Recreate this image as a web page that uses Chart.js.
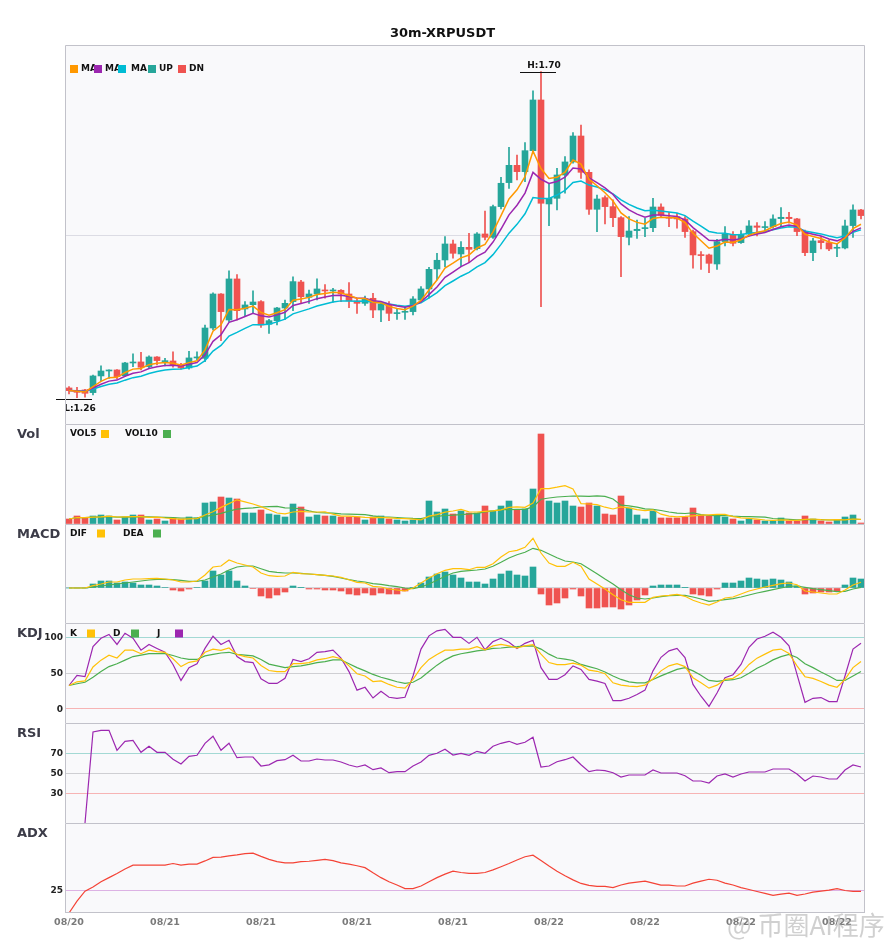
<!DOCTYPE html>
<html>
<head>
<meta charset="utf-8">
<script src="https://cdn.jsdelivr.net/npm/chart.js@4.4.1/dist/chart.umd.min.js"></script>
<style>
  html, body { margin: 0; padding: 0; background: #fff; }
  #wrap { position: relative; width: 885px; height: 950px; overflow: hidden; }
  #wrap canvas { position: absolute; left: 0; }
  #wm { position: absolute; left: 727px; top: 905px; font: 26px 'Noto Sans CJK SC', sans-serif;
        color: rgba(170, 170, 170, 0.55); white-space: nowrap; }
</style>
</head>
<body>
<div id="wrap">
  <canvas id="main" width="885" height="425" style="top:0px"></canvas>
  <canvas id="vol" width="885" height="100" style="top:424px"></canvas>
  <canvas id="macd" width="885" height="99" style="top:524px"></canvas>
  <canvas id="kdj" width="885" height="100" style="top:623px"></canvas>
  <canvas id="rsi" width="885" height="100" style="top:723px"></canvas>
  <canvas id="adx" width="885" height="127" style="top:823px"></canvas>
  <div id="wm">@ 币圈AI程序</div>
</div>
<script>
// ---- data (30m candles) ----
const tickLabels = ['08/20', '08/21', '08/21', '08/21', '08/21', '08/22', '08/22', '08/22', '08/22'];
const tickEvery = 12;

const opens = [1.2732,1.2682,1.2705,1.2669,1.2894,1.2961,1.2975,1.2898,1.3069,1.3083,
  1.3020,1.3150,1.3087,1.3096,1.3047,1.3002,1.3137,1.3132,1.3541,1.4000,
  1.3649,1.4203,1.3798,1.3856,1.3897,1.3591,1.3640,1.3811,1.3897,1.4162,
  1.3955,1.4000,1.4050,1.4041,1.4050,1.4000,1.3906,1.3874,1.3942,1.3784,
  1.3861,1.3735,1.3753,1.3762,1.3919,1.4068,1.4338,1.4459,1.4675,1.4540,
  1.4630,1.4612,1.4810,1.4765,1.5179,1.5503,1.5736,1.5651,1.5934,1.6618,
  1.5215,1.5291,1.5606,1.5782,1.6132,1.5642,1.5143,1.5300,1.5179,1.5030,
  1.4765,1.4855,1.4882,1.4895,1.5174,1.5031,1.5044,1.5013,1.4842,1.4527,
  1.4527,1.4405,1.4707,1.4797,1.4693,1.4810,1.4918,1.4896,1.4909,1.5017,
  1.5035,1.5013,1.4842,1.4558,1.4720,1.4693,1.4617,1.4621,1.4923,1.5134];
const highs = [1.2750,1.2741,1.2714,1.2907,1.3029,1.2975,1.2980,1.3078,1.3191,1.3213,
  1.3164,1.3155,1.3132,1.3218,1.3065,1.3227,1.3218,1.3582,1.4014,1.4005,
  1.4311,1.4261,1.3897,1.4041,1.3910,1.3658,1.3820,1.3919,1.4230,1.4185,
  1.4054,1.4203,1.4126,1.4077,1.4059,1.4153,1.3942,1.3973,1.4009,1.3897,
  1.3897,1.3807,1.3820,1.3964,1.4099,1.4360,1.4549,1.4774,1.4729,1.4706,
  1.4819,1.4828,1.5120,1.5201,1.5575,1.5979,1.5876,1.6042,1.6740,1.7001,
  1.5485,1.5696,1.5853,1.6177,1.6281,1.5674,1.5336,1.5323,1.5269,1.5044,
  1.5044,1.4999,1.5021,1.5291,1.5215,1.5103,1.5089,1.5044,1.4864,1.4572,
  1.4540,1.4738,1.4909,1.4842,1.4855,1.4990,1.4963,1.4977,1.5067,1.5166,
  1.5103,1.5022,1.4864,1.4752,1.4774,1.4729,1.4684,1.4999,1.5202,1.5143];
const lows = [1.2651,1.2601,1.2606,1.2637,1.2826,1.2862,1.2853,1.2885,1.3020,1.2975,
  1.2997,1.3042,1.3029,1.3011,1.2984,1.2984,1.3110,1.3087,1.3514,1.3370,
  1.3627,1.3649,1.3694,1.3739,1.3550,1.3469,1.3582,1.3658,1.3775,1.3883,
  1.3874,1.3919,1.3942,1.3888,1.3897,1.3816,1.3739,1.3847,1.3681,1.3627,
  1.3640,1.3658,1.3658,1.3717,1.3897,1.3942,1.4189,1.4369,1.4482,1.4369,
  1.4427,1.4594,1.4729,1.4751,1.5147,1.5426,1.5539,1.5516,1.5898,1.3829,
  1.4922,1.5134,1.5359,1.5764,1.5561,1.5075,1.4841,1.4945,1.4909,1.4234,
  1.4661,1.4751,1.4774,1.4841,1.5044,1.4909,1.4887,1.4765,1.4347,1.4333,
  1.4288,1.4333,1.4648,1.4648,1.4684,1.4783,1.4783,1.4833,1.4887,1.4909,
  1.4954,1.4788,1.4518,1.4450,1.4608,1.4585,1.4504,1.4608,1.4765,1.5013];
const closes = [1.2696,1.2673,1.2660,1.2894,1.2961,1.2970,1.2885,1.3069,1.3078,1.3011,
  1.3150,1.3101,1.3096,1.3042,1.3002,1.3137,1.3146,1.3541,1.4000,1.3762,
  1.4203,1.3775,1.3852,1.3892,1.3582,1.3640,1.3811,1.3874,1.4167,1.3964,
  1.4000,1.4068,1.4041,1.4050,1.4000,1.3906,1.3874,1.3933,1.3784,1.3865,
  1.3739,1.3744,1.3762,1.3933,1.4068,1.4333,1.4455,1.4675,1.4549,1.4630,
  1.4603,1.4810,1.4765,1.5179,1.5494,1.5736,1.5651,1.5934,1.6618,1.5224,
  1.5291,1.5606,1.5782,1.6132,1.5642,1.5143,1.5282,1.5179,1.5030,1.4774,
  1.4850,1.4873,1.4895,1.5174,1.5066,1.5022,1.5013,1.4842,1.4527,1.4518,
  1.4414,1.4707,1.4806,1.4684,1.4806,1.4918,1.4900,1.4905,1.5013,1.5035,
  1.5017,1.4842,1.4558,1.4716,1.4693,1.4608,1.4626,1.4918,1.5134,1.5058];

const ma5 = [1.2696,1.2688,1.2679,1.2751,1.2821,1.2871,1.2876,1.2940,1.2986,1.2994,
  1.3046,1.3064,1.3075,1.3064,1.3043,1.3074,1.3098,1.3246,1.3497,1.3585,
  1.3791,1.3786,1.3808,1.3836,1.3751,1.3714,1.3746,1.3789,1.3915,1.3931,
  1.3954,1.3992,1.4008,1.4022,1.4015,1.3979,1.3944,1.3940,1.3888,1.3880,
  1.3833,1.3803,1.3789,1.3837,1.3914,1.4054,1.4188,1.4350,1.4416,1.4487,
  1.4526,1.4621,1.4669,1.4839,1.5057,1.5283,1.5406,1.5582,1.5927,1.5693,
  1.5559,1.5575,1.5644,1.5807,1.5752,1.5549,1.5460,1.5366,1.5254,1.5094,
  1.5013,1.4966,1.4942,1.5019,1.5035,1.5031,1.5025,1.4964,1.4818,1.4718,
  1.4617,1.4647,1.4700,1.4695,1.4732,1.4794,1.4829,1.4854,1.4907,1.4950,
  1.4972,1.4929,1.4805,1.4775,1.4748,1.4701,1.4676,1.4757,1.4883,1.4941];
const ma8 = [1.2696,1.2691,1.2684,1.2731,1.2782,1.2824,1.2838,1.2889,1.2931,1.2949,
  1.2994,1.3018,1.3035,1.3037,1.3029,1.3053,1.3074,1.3178,1.3361,1.3450,
  1.3617,1.3652,1.3696,1.3740,1.3705,1.3691,1.3718,1.3753,1.3845,1.3871,
  1.3900,1.3937,1.3960,1.3980,1.3984,1.3967,1.3946,1.3943,1.3908,1.3898,
  1.3863,1.3837,1.3820,1.3845,1.3895,1.3992,1.4095,1.4224,1.4296,1.4370,
  1.4422,1.4508,1.4565,1.4701,1.4877,1.5068,1.5198,1.5362,1.5641,1.5548,
  1.5491,1.5517,1.5576,1.5700,1.5687,1.5566,1.5503,1.5431,1.5342,1.5216,
  1.5135,1.5077,1.5037,1.5067,1.5067,1.5057,1.5047,1.5001,1.4896,1.4812,
  1.4724,1.4720,1.4739,1.4727,1.4745,1.4783,1.4809,1.4830,1.4871,1.4907,
  1.4931,1.4911,1.4833,1.4807,1.4782,1.4743,1.4717,1.4762,1.4845,1.4892];
const ma13 = [1.2696,1.2693,1.2688,1.2717,1.2752,1.2783,1.2798,1.2837,1.2871,1.2891,
  1.2928,1.2953,1.2973,1.2983,1.2986,1.3008,1.3028,1.3101,1.3229,1.3305,
  1.3433,1.3482,1.3535,1.3586,1.3585,1.3593,1.3624,1.3660,1.3732,1.3765,
  1.3799,1.3837,1.3866,1.3892,1.3907,1.3907,1.3902,1.3906,1.3889,1.3886,
  1.3865,1.3848,1.3836,1.3850,1.3881,1.3946,1.4019,1.4113,1.4175,1.4240,
  1.4292,1.4366,1.4423,1.4531,1.4669,1.4821,1.4940,1.5082,1.5301,1.5290,
  1.5290,1.5335,1.5399,1.5504,1.5524,1.5470,1.5443,1.5405,1.5351,1.5269,
  1.5209,1.5161,1.5123,1.5130,1.5121,1.5107,1.5094,1.5058,1.4982,1.4916,
  1.4844,1.4824,1.4821,1.4801,1.4802,1.4819,1.4831,1.4842,1.4866,1.4890,
  1.4908,1.4899,1.4850,1.4831,1.4811,1.4782,1.4760,1.4783,1.4833,1.4865];

const volumes = [5,8,6,8,9,8,4,7,9,9, 4,5,3,6,5,7,6,21,22,27, 26,25,11,11,14,10,9,7,20,17,
  7,9,8,8,7,7,7,4,7,8, 5,4,3,4,5,23,12,15,10,13, 11,11,18,13,18,23,14,15,35,90,
  23,21,23,18,17,21,18,10,9,28, 16,9,5,13,6,6,6,7,16,9, 8,8,7,5,3,5,4,3,3,6,
  3,3,8,5,3,2,4,7,9,1];
const vol5 = [5,6.5,6.3,6.8,7.2,7.8,7.0,7.2,7.4,7.4, 6.6,6.8,6.0,5.4,4.6,5.2,5.4,9.0,12.2,16.6,
  20.4,24.2,22.2,20.0,17.4,14.2,11.0,10.2,12.0,12.6, 12.0,12.0,12.2,9.8,7.8,7.8,7.4,6.6,6.4,6.6,
  6.2,5.6,5.4,4.8,4.2,7.8,9.4,11.8,13.0,14.6, 12.2,12.0,12.6,13.2,14.2,16.6,17.2,16.6,21.0,35.4,
  35.4,36.8,38.4,35.0,20.4,20.0,19.4,16.8,15.0,17.2, 16.2,14.4,13.4,14.2,9.8,7.8,7.2,7.6,8.2,8.8,
  9.2,9.6,9.6,7.4,6.2,5.6,4.8,4.0,3.6,4.2, 3.8,3.6,4.6,5.0,4.4,4.2,4.4,4.2,5.0,4.6];
const vol10 = [5,6.5,6.3,6.8,7.2,7.3,6.9,6.9,7.1,7.3, 7.2,6.9,6.6,6.4,6.0,5.9,6.1,7.5,8.8,10.6,
  12.8,14.8,15.6,16.1,17.0,17.3,17.6,16.2,16.0,15.0, 13.1,11.5,11.2,10.9,10.2,9.9,9.7,9.4,8.1,7.2,
  7.0,6.5,6.0,5.6,5.4,7.0,7.5,8.6,8.9,9.4, 10.0,10.7,12.2,13.1,14.4,14.4,14.6,14.6,17.1,24.8,
  26.0,27.0,27.5,28.0,27.9,27.7,28.1,27.6,25.0,18.8, 18.1,16.9,15.1,14.6,13.5,12.0,10.8,10.5,11.2,9.3,
  8.5,8.4,8.6,7.8,7.5,7.4,7.2,6.8,5.5,5.2, 4.7,4.2,4.3,4.3,4.3,4.0,4.0,4.4,5.0,4.5];

const macdHist = [0,0,0,0.0004,0.0007,0.0007,0.0005,0.0006,0.0005,0.0003,
  0.0003,0.0002,0.00005,-0.0002,-0.0003,-0.0001,0.00005,0.0007,0.0017,0.0013,
  0.0017,0.0007,0.0002,-0.00005,-0.0008,-0.0010,-0.0007,-0.0004,0.0002,0.00003,
  -0.0001,-0.0001,-0.0002,-0.0002,-0.0003,-0.0006,-0.0007,-0.0005,-0.0007,-0.0005,
  -0.0006,-0.0006,-0.0003,0.00003,0.0005,0.0011,0.0014,0.0016,0.0013,0.0010,
  0.0006,0.0006,0.0004,0.0009,0.0014,0.0017,0.0013,0.0012,0.0021,-0.0006,
  -0.0017,-0.0015,-0.0010,-0.0001,-0.0008,-0.0020,-0.0020,-0.0019,-0.0019,-0.0021,
  -0.0017,-0.0012,-0.0007,0.0002,0.0003,0.0003,0.0003,0.00003,-0.0006,-0.0007,
  -0.0008,-0.0001,0.0005,0.0005,0.0007,0.0010,0.0009,0.0008,0.0009,0.0008,
  0.0006,0.0002,-0.0006,-0.0005,-0.0004,-0.0004,-0.0003,0.0003,0.0010,0.0009];
const macdDif = [0,0,0,0.00023,0.0004,0.0006,0.0006,0.0008,0.0009,0.0009,
  0.00093,0.00097,0.0009,0.0008,0.0006,0.0006,0.0007,0.0013,0.0021,0.0022,
  0.0028,0.0025,0.0023,0.0021,0.0015,0.00123,0.00117,0.0012,0.00157,0.00143,
  0.0014,0.00133,0.00127,0.0012,0.00107,0.00083,0.00057,0.0005,0.00017,0.0001,
  -0.0001,-0.0002,-0.0003,0,0.0005,0.0010,0.00143,0.00177,0.00193,0.00193,
  0.00183,0.00207,0.00207,0.00243,0.0031,0.00363,0.00377,0.00407,0.00497,0.0035,
  0.0025,0.00217,0.00217,0.00257,0.00217,0.0009,0.0004,-0.0001,-0.00067,-0.00117,
  -0.00143,-0.00143,-0.00143,-0.00093,-0.0008,-0.00073,-0.00063,-0.00083,-0.00123,-0.0015,
  -0.0017,-0.0014,-0.0010,-0.0009,-0.0006,-0.0003,-0.0001,0.0001,0.00027,0.00043,
  0.0005,0.00033,-0.0003,-0.0004,-0.0005,-0.0006,-0.0006,-0.0002,0.0003,0.00057];
const macdDea = [0,0,0,0.0001,0.0002,0.0003,0.0004,0.0005,0.0006,0.0007,
  0.0008,0.00087,0.00087,0.00083,0.00077,0.00067,0.00067,0.0008,0.0011,0.0014,
  0.0018,0.0021,0.0022,0.0022,0.00193,0.00167,0.00157,0.0015,0.0015,0.00147,
  0.0014,0.00133,0.00127,0.00117,0.0010,0.00083,0.0007,0.0006,0.00043,0.00037,
  0.00023,0.00013,0,-0.00007,0.0001,0.0004,0.00077,0.00117,0.0015,0.00167,
  0.00173,0.0018,0.0019,0.00217,0.00257,0.0030,0.00333,0.00357,0.00397,0.00377,
  0.0034,0.00303,0.0027,0.0026,0.00243,0.00193,0.00143,0.0009,0.0004,-0.00017,
  -0.00067,-0.0010,-0.0011,-0.0010,-0.00087,-0.00077,-0.00073,-0.00073,-0.0009,-0.0011,
  -0.00133,-0.00127,-0.00117,-0.00107,-0.0009,-0.0007,-0.0005,-0.00033,-0.00017,0,
  0.00017,0.0002,0.00007,-0.00007,-0.00017,-0.00027,-0.00037,-0.00033,-0.0001,0.00007];

const kdjK = [32.5,37.7,39,58.5,68,75,71,82,82,77, 82,80,79,70,59,65,67,79,83.5,81.6,
  85,76,73,71,60.5,53.5,52,52,63,63, 64.6,68.4,70,73,70,60,49,45.8,38,39,
  34,30,28.8,41,57.5,69,76,82,82,83.5, 83.5,87,82.5,88,90,88,85,88,89.6,76.4,
  64.6,61.8,61.8,63.7,61,54,52.4,49,36.3,33, 31.6,31,33,42,53,60,63,59,43.4,36.3,
  28.8,33,41,42.5,49.5,62,70.8,76.4,82,83.5, 77.4,60,44.8,42.5,38.2,33,30,41,57.5,66];
const kdjD = [32.5,35,37,44,52,59,63,68,73,75, 77,77,77,74.5,71,69,69,74,76,78,
  79,76,75,74,69,62.5,60,57.5,59,60, 62,64.6,66,68.4,68.4,63,57.5,53,48,44,
  41,37.7,35.4,37,43,52,61,68.4,74,77, 79,81,82.5,84.4,85,86.3,86.8,87.7,88,83.5,
  76.4,71,69.3,67.5,62,59,56,51.4,45.8,41, 37.7,36.3,36.3,41,46,50.5,55,57.5,53,47,
  39.6,38.2,39.6,40.6,43.4,49.5,56.6,62,68.4,73, 76,71.7,63,57.5,51.4,45.8,39.6,39.6,45.8,52];
const kdjJ = [32.5,46.7,45,87,98.6,104,90,105.7,98.6,82, 90,84.4,79,62,39.6,57.5,63,84.4,101.4,90,
  95.8,73,66,64.6,42,35.4,35.4,42.5,69,66, 70,79,80,82,71,52,26,30,15,24.5,
  16,14.6,16,45.8,83.5,102,109,111,100,100, 91.5,100,82.5,94,98.6,93,84.4,91.5,95.8,57.5,
  41,41,47.6,60,55,41,38.7,35.4,11.3,11.3, 14.6,20,26,53,72,81,84.4,71.7,34,17.5,
  3.3,22,43.4,47.6,62,86,97.6,101.4,107,100, 88,48,9,14.6,15.6,10,10,45.8,83.5,91.5];

const rsi = [null,null,0,91,92.7,92.7,72.7,81.7,82.7,70.7, 76.7,70.7,70.7,63.7,59,66.7,67.7,79.7,86.7,72.7,
  79.7,65.3,66,66,57,58.2,62.3,63.3,67.7,62, 62,64,63,63,61,58,56,58,53.3,55,
  50.3,51.3,51.3,57,61,67.7,69.7,73.7,68,69.7, 67.7,71.7,69.7,76.7,79.7,81.7,78.7,80.7,85.7,56,
  57,61.3,63.3,66,58.3,51.3,53,52.3,50.3,46, 48,48,48,53,50,50,50,47.3,42,42,
  40,47,49,46,49,51,51,51,54,54, 54,49,42,47,46,44,44,53,58,56];

const adx = [18,21.7,24.8,26.1,27.7,29,30.3,31.7,32.9,32.9, 32.9,32.9,32.9,33.4,32.9,33.2,33.2,34.2,35.3,35.4,
  35.8,36.1,36.5,36.6,35.6,34.7,34,33.6,33.6,34, 34.1,34.4,34.7,34.3,33.6,33.2,32.7,32.1,30.5,29,
  27.7,26.7,25.6,25.6,26.4,27.7,29,30.1,31,30.6, 30.3,30.3,30.6,31.4,32.4,33.4,34.5,35.5,36,34.3,
  32.6,31,29.6,28.3,27.2,26.6,26.3,26.3,25.9,26.7, 27.3,27.6,27.9,27.3,26.7,26.7,26.4,26.4,27.3,27.9,
  28.5,28.2,27.3,26.7,25.9,25.3,24.7,24.1,23.5,23.9, 24.2,23.5,23.9,24.5,24.8,25.1,25.6,25,24.7,24.7];

// ---- styling ----
Chart.defaults.font.family = "'DejaVu Sans', sans-serif";
const UP = '#26a69a', DN = '#ef5350';
const ORANGE = '#ff9800', PURPLE = '#9c27b0', CYAN = '#00bcd4';
const YELLOW = '#ffc107', GREEN = '#4caf50', ADX_RED = '#f44336';
const PLOT_BG = '#f9f9fb', FRAME = '#c2c2ca';

const candleIdx = opens.map((_, i) => i);
const candleColors = opens.map((o, i) => (closes[i] >= o ? UP : DN));
const histColors = macdHist.map(v => (v >= 0 ? UP : DN));

const framePlugin = {
    id: 'frame',
    beforeDraw(chart) {
        const { ctx, chartArea: a } = chart;
        ctx.save();
        ctx.fillStyle = PLOT_BG;
        ctx.fillRect(a.left, a.top, a.right - a.left, a.bottom - a.top);
        ctx.restore();
    },
    afterDraw(chart, args, opts) {
        const { ctx, chartArea: a } = chart;
        ctx.save();
        ctx.strokeStyle = FRAME;
        ctx.lineWidth = 1;
        ctx.beginPath();
        ctx.moveTo(a.left + 0.5, a.bottom);
        ctx.lineTo(a.left + 0.5, a.top + 0.5);
        ctx.lineTo(a.right - 0.5, a.top + 0.5);
        ctx.lineTo(a.right - 0.5, a.bottom);
        if (opts.bottom) {
            ctx.moveTo(a.left, a.bottom - 0.5);
            ctx.lineTo(a.right, a.bottom - 0.5);
        }
        ctx.stroke();

        ctx.textBaseline = 'middle';
        if (opts.title) {
            ctx.font = "bold 13px 'DejaVu Sans'";
            ctx.fillStyle = '#111';
            ctx.textAlign = 'center';
            ctx.fillText(opts.title, chart.width / 2, 34);
        }
        if (opts.name) {
            ctx.font = "bold 13px 'DejaVu Sans'";
            ctx.fillStyle = '#3c3c48';
            ctx.textAlign = 'left';
            ctx.fillText(opts.name, 17, a.top + 11);
        }
        // value labels of the y ticks, drawn here so they take no layout room
        if (opts.yLabels) {
            const y = chart.scales.y;
            ctx.font = "bold 9px 'DejaVu Sans'";
            ctx.fillStyle = '#222';
            ctx.textAlign = 'right';
            y.ticks.forEach(t => ctx.fillText(String(t.value), a.left - 2, y.getPixelForValue(t.value) + 0.5));
        }
        ctx.textAlign = 'left';
        ctx.font = "bold 9px 'DejaVu Sans'";
        const ly = a.top + (opts.legendY || 10.5);
        (opts.legend || []).forEach(it => {
            ctx.fillStyle = it.color;
            ctx.fillRect(it.bx, ly - 4, 8, 8);
            ctx.fillStyle = '#111';
            ctx.fillText(it.text, it.tx, ly);
        });
        ctx.restore();
    }
};

// marks the highest high and lowest low of the visible candles
const hiLoPlugin = {
    id: 'hiLo',
    afterDatasetsDraw(chart) {
        const { ctx, scales: { x, y } } = chart;
        let hi = 0, lo = 0;
        highs.forEach((v, i) => { if (v > highs[hi]) hi = i; });
        lows.forEach((v, i) => { if (v < lows[lo]) lo = i; });
        const hx = x.getPixelForValue(hi), hy = Math.round(y.getPixelForValue(highs[hi])) + 0.5;
        const lx = x.getPixelForValue(lo), ly = Math.round(y.getPixelForValue(lows[lo])) + 1.5;
        ctx.save();
        ctx.strokeStyle = '#111';
        ctx.lineWidth = 1.2;
        ctx.beginPath();
        ctx.moveTo(hx - 21, hy); ctx.lineTo(hx + 15, hy);
        ctx.moveTo(lx - 21, ly); ctx.lineTo(lx + 15, ly);
        ctx.stroke();
        ctx.fillStyle = '#111';
        ctx.font = "bold 9px 'DejaVu Sans'";
        ctx.textAlign = 'center';
        ctx.textBaseline = 'middle';
        ctx.fillText('H:' + highs[hi].toFixed(2), hx + 3, hy - 7);
        ctx.fillText('L:' + lows[lo].toFixed(2), lx + 3, ly + 9);
        ctx.restore();
    }
};

function yAxis(min, max, ticks, colors) {
    return {
        min, max,
        afterFit: s => { s.width = 65; },
        afterBuildTicks: s => { s.ticks = ticks.map(v => ({ value: v })); },
        grid: { color: c => colors[c.index] || 'transparent', drawTicks: false, lineWidth: 1 },
        border: { display: false },
        ticks: { display: false }
    };
}

function xHidden() {
    return { type: 'category', offset: true, display: false, grid: { display: false } };
}

function lineSet(label, data, color, width) {
    return { type: 'line', label, data, borderColor: color, borderWidth: width || 1.2,
             pointRadius: 0, tension: 0, fill: false, order: 0, spanGaps: false };
}

function baseOptions(frame, scales, top) {
    return {
        responsive: false,
        animation: false,
        events: [],
        layout: { padding: { top: top || 0, right: 20, left: 0, bottom: 0 } },
        plugins: { legend: { display: false }, tooltip: { enabled: false }, frame },
        scales
    };
}

// ---- main candle panel ----
new Chart(document.getElementById('main'), {
    type: 'bar',
    data: {
        labels: candleIdx,
        datasets: [
            lineSet('MA5', ma5, ORANGE, 1.5),
            lineSet('MA8', ma8, PURPLE, 1.5),
            lineSet('MA13', ma13, CYAN, 1.5),
            { label: 'body', data: opens.map((o, i) => [o, closes[i]]), backgroundColor: candleColors,
              barThickness: 6, minBarLength: 1, grouped: false, order: 1 },
            { label: 'wick', data: lows.map((l, i) => [l, highs[i]]), backgroundColor: candleColors,
              barThickness: 1, grouped: false, order: 2 }
        ]
    },
    options: baseOptions({
        title: '30m-XRPUSDT',
        legendY: 24,
        legend: [
            { color: ORANGE, bx: 70, tx: 81, text: 'MA' },
            { color: PURPLE, bx: 94, tx: 105, text: 'MA' },
            { color: CYAN, bx: 118, tx: 131, text: 'MA' },
            { color: UP, bx: 148, tx: 159, text: 'UP' },
            { color: DN, bx: 178, tx: 189, text: 'DN' }
        ]
    }, {
        x: xHidden(),
        y: yAxis(1.2232, 1.7360, [1.4796], ['#dcdce4'])
    }, 45),
    plugins: [framePlugin, hiLoPlugin]
});

// ---- volume ----
new Chart(document.getElementById('vol'), {
    type: 'bar',
    data: {
        labels: candleIdx,
        datasets: [
            lineSet('VOL5', vol5, YELLOW),
            lineSet('VOL10', vol10, GREEN),
            { label: 'Vol', data: volumes, backgroundColor: candleColors, barThickness: 6, order: 1 }
        ]
    },
    options: baseOptions({
        name: 'Vol',
        legendY: 10,
        legend: [
            { color: YELLOW, tx: 70, bx: 101, text: 'VOL5' },
            { color: GREEN, tx: 125, bx: 163, text: 'VOL10' }
        ]
    }, {
        x: xHidden(),
        y: yAxis(0, 100, [0], ['transparent'])
    }),
    plugins: [framePlugin]
});

// ---- MACD ----
new Chart(document.getElementById('macd'), {
    type: 'bar',
    data: {
        labels: candleIdx,
        datasets: [
            lineSet('DIF', macdDif, YELLOW),
            lineSet('DEA', macdDea, GREEN),
            { label: 'MACD', data: macdHist, backgroundColor: histColors, barThickness: 6, order: 1 }
        ]
    },
    options: baseOptions({
        name: 'MACD',
        legendY: 9.5,
        legend: [
            { color: YELLOW, tx: 70, bx: 97, text: 'DIF' },
            { color: GREEN, tx: 123, bx: 153, text: 'DEA' }
        ]
    }, {
        x: xHidden(),
        y: yAxis(-0.0035, 0.0064, [0], ['#d4d4d8'])
    }),
    plugins: [framePlugin]
});

// ---- KDJ ----
new Chart(document.getElementById('kdj'), {
    type: 'line',
    data: {
        labels: candleIdx,
        datasets: [lineSet('K', kdjK, YELLOW), lineSet('D', kdjD, GREEN), lineSet('J', kdjJ, PURPLE)]
    },
    options: baseOptions({
        name: 'KDJ',
        yLabels: true,
        legend: [
            { color: YELLOW, tx: 70, bx: 87, text: 'K' },
            { color: GREEN, tx: 113, bx: 131, text: 'D' },
            { color: PURPLE, tx: 157, bx: 175, text: 'J' }
        ]
    }, {
        x: xHidden(),
        y: yAxis(-20, 120, [0, 50, 100], ['#f7b4b4', '#cfcfd3', '#a3d9d4'])
    }),
    plugins: [framePlugin]
});

// ---- RSI ----
new Chart(document.getElementById('rsi'), {
    type: 'line',
    data: { labels: candleIdx, datasets: [lineSet('RSI', rsi, PURPLE)] },
    options: baseOptions({ name: 'RSI', yLabels: true }, {
        x: xHidden(),
        y: yAxis(0, 100, [30, 50, 70], ['#f7b4b4', '#cfcfd3', '#a3d9d4'])
    }),
    plugins: [framePlugin]
});

// ---- ADX + time axis ----
new Chart(document.getElementById('adx'), {
    type: 'line',
    data: { labels: candleIdx, datasets: [lineSet('ADX', adx, ADX_RED)] },
    options: baseOptions({ name: 'ADX', bottom: true, yLabels: true }, {
        x: {
            type: 'category',
            offset: true,
            afterFit: s => { s.height = 37; },
            grid: { display: false, drawTicks: false },
            border: { display: false },
            ticks: {
                autoSkip: false,
                maxRotation: 0,
                padding: 4,
                color: '#7a7a7a',
                font: { size: 9.5, weight: 'bold' },
                callback: (v, i) => (i % tickEvery === 0 ? tickLabels[i / tickEvery] : '')
            }
        },
        y: yAxis(18, 46, [25], ['#dcb2e4'])
    }),
    plugins: [framePlugin]
});
</script>
</body>
</html>
